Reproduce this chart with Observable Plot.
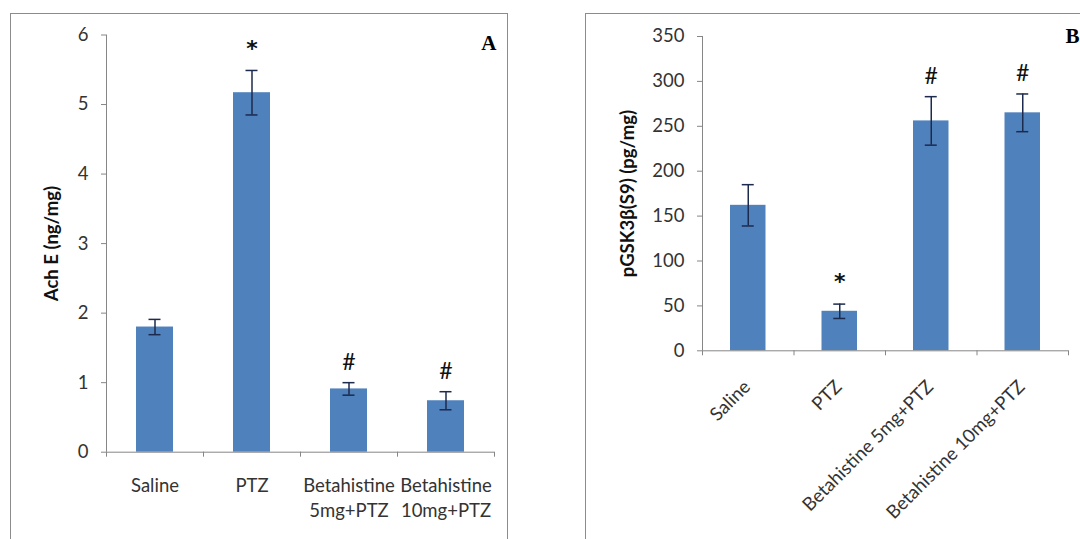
<!DOCTYPE html>
<html><head><meta charset="utf-8">
<script src="https://cdn.jsdelivr.net/npm/d3@7"></script>
<script src="https://cdn.jsdelivr.net/npm/@observablehq/plot@0.6"></script>
<style>
html,body{margin:0;padding:0;background:#fff;}
body{width:1080px;height:539px;overflow:hidden;position:relative;font-family:Lato,sans-serif;}
.frame{position:absolute;border:1.5px solid #8c8c8c;box-sizing:border-box;}
.panel{position:absolute;}
</style></head><body>
<div class="frame" style="left:10px;top:13px;width:498px;height:600px"></div>
<div class="frame" style="left:585px;top:13px;width:600px;height:600px"></div>
<div id="a" class="panel" style="left:10px;top:13px"></div>
<div id="b" class="panel" style="left:585px;top:13px"></div>
<script>
// Panel A: AchE
const categoriesA = ["Saline", "PTZ", "Betahistine\n5mg+PTZ", "Betahistine\n10mg+PTZ"];
const meansA = [1.80, 5.17, 0.91, 0.74];
const errsA = [0.11, 0.32, 0.09, 0.13];
const notesA = ["", "*", "#", "#"];
const yTicksA = [0, 1, 2, 3, 4, 5, 6];
const yLabelA = "Ach E (ng/mg)";
const letterA = "A";

// Panel B: pGSK3β
const categoriesB = ["Saline", "PTZ", "Betahistine 5mg+PTZ", "Betahistine 10mg+PTZ"];
const meansB = [162, 44, 256, 265];
const errsB = [23, 8, 27, 21];
const notesB = ["", "*", "#", "#"];
const yTicksB = [0, 50, 100, 150, 200, 250, 300, 350];
const yLabelB = "pGSK3β(S9) (pg/mg)";
const letterB = "B";

const BAR = "#4F81BD", AXIS = "#868686", TXT = "#333", ERR = "#1c2a4d";
const FONT = "Lato, sans-serif";

function rows(cats, means, errs, notes) {
  return cats.map((c, i) => ({i, cat: c, mean: means[i], err: errs[i], note: notes[i]}));
}

function panel(o) {
  const data = rows(o.cats, o.means, o.errs, o.notes);
  const n = o.cats.length;
  const ticks = o.yTicks;
  return Plot.plot({
    width: o.width, height: o.height,
    marginLeft: o.ml, marginRight: o.mr, marginTop: o.mt, marginBottom: o.mb,
    style: {fontFamily: FONT, background: "transparent", overflow: "visible"},
    x: {domain: [0, n], axis: null},
    y: {domain: [ticks[0], ticks[ticks.length - 1]], axis: null},
    marks: [
      Plot.rectY(data, {x1: d => d.i, x2: d => d.i + 1, y: "mean", fill: BAR, insetLeft: o.inset, insetRight: o.inset}),
      Plot.ruleX(data, {x: d => d.i + 0.5, y1: d => d.mean - d.err, y2: d => d.mean + d.err, stroke: ERR, strokeWidth: 1.5}),
      Plot.ruleY(data, {x1: d => d.i + 0.5, x2: d => d.i + 0.5, y: d => d.mean + d.err, insetLeft: -6, insetRight: -6, stroke: ERR, strokeWidth: 1.5}),
      Plot.ruleY(data, {x1: d => d.i + 0.5, x2: d => d.i + 0.5, y: d => d.mean - d.err, insetLeft: -6, insetRight: -6, stroke: ERR, strokeWidth: 1.5}),
      Plot.ruleX([0], {stroke: AXIS}),
      Plot.ruleY([ticks[0]], {stroke: AXIS}),
      Plot.axisY({ticks, tickFormat: d => String(d), tickSize: 5, tickPadding: 13, fontSize: 18.5, stroke: AXIS, fill: TXT, label: null}),
      Plot.axisX({ticks: d3.range(n + 1), tickSize: 5, tickFormat: () => "", stroke: AXIS, label: null}),
      o.rotate
        ? Plot.text(data, {x: d => d.i + 0.5, y: ticks[0], text: "cat", rotate: -45, textAnchor: "end", lineAnchor: "middle", dx: -1, dy: 33, fontSize: 18.5, fill: TXT})
        : Plot.text(data, {x: d => d.i + 0.5, y: ticks[0], text: "cat", lineAnchor: "top", dy: 22, fontSize: 18.5, lineHeight: 1.34, fill: TXT}),
      Plot.text(data.filter(d => d.note === "*"), {x: d => d.i + 0.5, y: d => d.mean + d.err, text: "note", dy: -22, fontFamily: "DejaVu Sans, sans-serif", fontSize: 22, fontWeight: "bold", fill: "#111"}),
      Plot.text(data.filter(d => d.note === "#"), {x: d => d.i + 0.5, y: d => d.mean + d.err, text: "note", dy: -20, fontSize: 23, fill: "#111"}),
      Plot.text([o.yLabel], {frameAnchor: "left", textAnchor: "middle", rotate: -90, dx: o.ylDx, fontSize: o.ylSize, fontWeight: "bold", fill: "#111"}),
      Plot.text([o.letter], {frameAnchor: "top-right", textAnchor: o.letterAnchor, lineAnchor: "top", dx: o.letterDx, dy: o.letterDy, fontFamily: "Liberation Serif, serif", fontWeight: "bold", fontSize: 21, fill: "#000"})
    ]
  });
}

document.getElementById("a").append(panel({
  cats: categoriesA, means: meansA, errs: errsA, notes: notesA, yTicks: yTicksA, yLabel: yLabelA, letter: letterA,
  width: 498, height: 526, ml: 96, mr: 14, mt: 21.5, mb: 87.3, inset: 30,
  rotate: false, ylDx: -54, ylSize: 18.5, letterAnchor: "end", letterDx: 2, letterDy: 0
}));
document.getElementById("b").append(panel({
  cats: categoriesB, means: meansB, errs: errsB, notes: notesB, yTicks: yTicksB, yLabel: yLabelB, letter: letterB,
  width: 495, height: 526, ml: 117, mr: 12, mt: 23, mb: 188.7, inset: 28,
  rotate: true, ylDx: -74, ylSize: 18.5, letterAnchor: "start", letterDx: -3, letterDy: -8
}));
</script>
</body></html>
